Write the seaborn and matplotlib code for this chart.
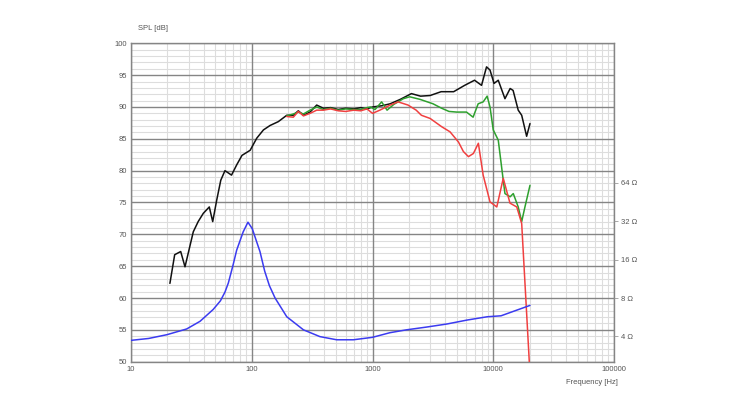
import numpy as np
import pandas as pd
import matplotlib
matplotlib.use("Agg")
import matplotlib.pyplot as plt
import seaborn as sns
from matplotlib.ticker import FixedLocator, NullFormatter, NullLocator

# ---- data ----
black_f = [21, 23, 25.8, 28, 32.8, 36, 39.7, 44.5, 47.5, 51.3, 55.4, 60, 68, 75, 83, 97,
           110, 125, 142, 166, 195, 221, 243, 268, 304, 345, 392, 450, 520, 600, 700, 800,
           900, 1000, 1200, 1400, 1700, 2100, 2500, 3000, 3700, 4700, 5800, 7000, 8000,
           8800, 9400, 10150, 11000, 12500, 13800, 14600, 16100, 17200, 18900, 20150]
black_spl = [62.3, 66.8, 67.3, 64.9, 70.4, 72.0, 73.3, 74.3, 72.0, 75.4, 78.5, 80.0, 79.3,
             80.9, 82.4, 83.2, 85.1, 86.4, 87.1, 87.7, 88.7, 88.7, 89.4, 88.7, 89.2, 90.3,
             89.8, 89.9, 89.6, 89.8, 89.7, 89.9, 89.7, 90.0, 90.2, 90.5, 91.2, 92.1, 91.7,
             91.8, 92.4, 92.4, 93.4, 94.2, 93.4, 96.3, 95.8, 93.7, 94.2, 91.3, 92.9, 92.6,
             89.5, 88.7, 85.4, 87.4]

green_f = [195, 221, 243, 268, 304, 345, 392, 450, 520, 600, 700, 800, 900, 960, 1050,
           1190, 1320, 1500, 1800, 2030, 2470, 3170, 3740, 4300, 4980, 6000, 6810, 7500,
           8250, 8900, 9400, 10000, 11000, 12100, 12500, 13800, 14650, 16100, 17200,
           18300, 20150]
green_spl = [88.6, 88.9, 89.2, 88.9, 89.5, 90.0, 89.6, 89.8, 89.5, 89.7, 89.6, 89.6, 89.9,
             90.0, 89.6, 90.8, 89.5, 90.4, 91.3, 91.6, 91.2, 90.5, 89.8, 89.3, 89.2, 89.2,
             88.4, 90.5, 90.8, 91.7, 90.0, 86.4, 84.8, 78.5, 76.4, 75.9, 76.4, 74.3, 72.0,
             74.3, 77.7]

red_f = [195, 221, 243, 268, 304, 345, 392, 450, 520, 600, 700, 800, 900, 1000, 1150,
         1400, 1630, 1970, 2300, 2540, 3000, 3740, 4385, 5150, 5660, 6230, 6850, 7530,
         8250, 9400, 10700, 12100, 13760, 15660, 17200, 20150]
red_spl = [88.5, 88.4, 89.3, 88.6, 89.0, 89.5, 89.5, 89.7, 89.4, 89.3, 89.5, 89.4, 89.7,
           89.0, 89.5, 90.3, 90.8, 90.3, 89.5, 88.7, 88.2, 86.9, 86.1, 84.5, 83.0, 82.2,
           82.7, 84.3, 79.3, 75.1, 74.3, 78.8, 74.9, 74.3, 71.7, 48.0]

imp_f = [10, 14, 19.8, 28.9, 37.3, 47.9, 55, 60, 64, 70, 75, 85, 93, 101, 110, 117, 128,
         140, 156, 195, 268, 367, 505, 695, 1000, 1390, 1910, 2800, 4130, 6070, 8920,
         11600, 20150]
imp_ohm = [3.72, 3.85, 4.12, 4.57, 5.25, 6.5, 7.6, 8.9, 10.5, 14.5, 19.0, 26.5, 31.5, 28.0,
           22.0, 18.5, 13.0, 10.0, 8.0, 5.7, 4.5, 3.98, 3.76, 3.76, 3.93, 4.27, 4.5, 4.73,
           5.0, 5.37, 5.7, 5.8, 7.0]

x_ticks = [10, 100, 1000, 10000, 100000]
x_labels = ["10", "100", "1000", "10000", "100000"]
y_ticks = [50, 55, 60, 65, 70, 75, 80, 85, 90, 95, 100]
z_ticks = [4, 8, 16, 32, 64]
z_labels = ["4 Ω", "8 Ω", "16 Ω", "32 Ω", "64 Ω"]

# ---- figure ----
sns.set_style("white")
plt.rcParams['font.family'] = ['Liberation Sans', 'DejaVu Sans']
fig = plt.figure(figsize=(7.5, 3.97), dpi=100)
ax = fig.add_axes([131 / 750, 35.3 / 397, 483 / 750, 318.4 / 397])

major_c = "#858585"
minor_c = "#dddddd"
txt_c = "#555555"

ax.set_xscale("log")
ax.set_xlim(10, 100000)
ax.set_ylim(50, 100)

# grid: minor first, then major, below the curves
minor_x = [m * 10 ** d for d in range(1, 5) for m in range(2, 10)]
minor_y = [v for v in range(51, 100) if v % 5 != 0]
for v in minor_x:
    ax.axvline(v, color=minor_c, lw=0.8, zorder=0.5)
for v in minor_y:
    ax.axhline(v, color=minor_c, lw=0.8, zorder=0.5)
for v in x_ticks:
    ax.axvline(v, color=major_c, lw=1.0, zorder=0.8)
for v in y_ticks:
    ax.axhline(v, color=major_c, lw=1.0, zorder=0.8)

sns.lineplot(x=black_f, y=black_spl, color="#111111", lw=1.1, ax=ax, estimator=None, sort=False, zorder=3)
sns.lineplot(x=green_f, y=green_spl, color="#2ea02e", lw=1.1, ax=ax, estimator=None, sort=False, zorder=3)
sns.lineplot(x=red_f, y=red_spl, color="#f04040", lw=1.1, ax=ax, estimator=None, sort=False, zorder=3)

ax.xaxis.set_major_locator(FixedLocator(x_ticks))
ax.set_xticklabels(x_labels)
ax.xaxis.set_minor_locator(NullLocator())
ax.yaxis.set_major_locator(FixedLocator(y_ticks))
ax.yaxis.set_minor_locator(NullLocator())
ax.set_yticklabels([str(v) for v in y_ticks])
ax.grid(False)
ax.tick_params(which="both", length=0, labelsize=5.5, labelcolor=txt_c, pad=3)
for s in ax.spines.values():
    s.set_color(major_c)
    s.set_linewidth(1.0)

ax.set_xlabel("")
ax.set_ylabel("")
ax.text(0.015, 1.035, "SPL [dB]", transform=ax.transAxes, fontsize=5.5, color=txt_c,
        ha="left", va="bottom")
ax.text(0.955, -0.055, "Frequency [Hz]", transform=ax.transAxes, fontsize=5.5, color=txt_c,
        ha="center", va="top")

# ---- impedance on twin axis ----
ax2 = ax.twinx()
ax2.set_yscale("log")
z_lo = 10 ** ((50 - 41.94) / 20)
z_hi = 10 ** ((100 - 41.94) / 20)
ax2.set_ylim(z_lo, z_hi)
sns.lineplot(x=imp_f, y=imp_ohm, color="#3b3bf0", lw=1.1, ax=ax2, estimator=None, sort=False)
ax2.yaxis.set_major_locator(FixedLocator(z_ticks))
ax2.yaxis.set_minor_locator(NullLocator())
ax2.set_yticklabels(z_labels)
ax2.tick_params(axis="y", length=3, width=0.6, color="#999999", labelsize=5.5,
                labelcolor=txt_c, pad=2)
ax2.set_ylabel("")
ax2.grid(False)
for s in ax2.spines.values():
    s.set_visible(False)

fig.savefig("out.png", dpi=100, facecolor="white")
